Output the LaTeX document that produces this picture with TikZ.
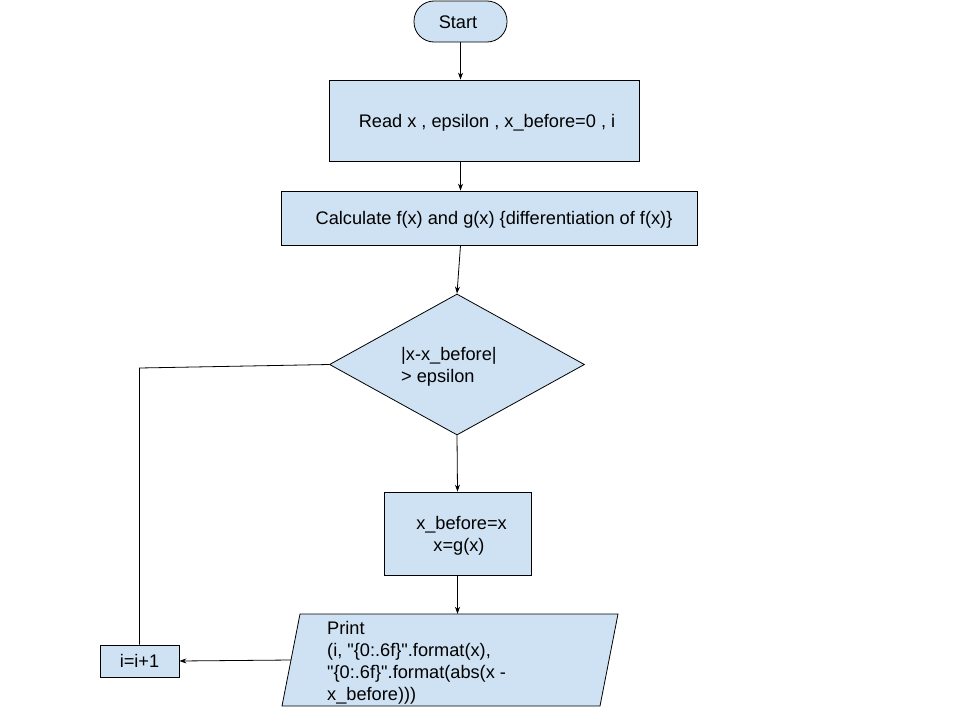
\documentclass[tikz,border=0pt]{standalone}
\usepackage{fontspec}
\setmainfont{Liberation Sans}[Ligatures=TeXOff]
\usetikzlibrary{shapes.geometric,arrows.meta}
\definecolor{boxfill}{HTML}{CFE2F3}
\begin{document}
\begin{tikzpicture}[x=1pt,y=-1pt,
  every node/.style={font=\fontsize{18.2}{22}\selectfont, inner sep=0pt},
  block/.style={draw=black, fill=boxfill, line width=0.8pt},
  flow/.style={draw=black, line width=0.8pt, -{Stealth[length=7pt,width=5pt]}},
  plain/.style={draw=black, line width=0.8pt}]
\useasboundingbox (0,0) rectangle (960,720);
\fill[white] (0,0) rectangle (960,720);

% boxes
\node[block, rounded corners=20pt, minimum width=93pt, minimum height=41pt] (start) at (460.5,21.5) {};
\node (stext) at (458,22.5) {Start};
\node[block, minimum width=310pt, minimum height=81pt] (read) at (484,120.5) {};
\node (rtext) at (487,122.5) {Read x , epsilon , x\_before=0 , i};
\node[block, minimum width=416pt, minimum height=54pt] (calc) at (489,218) {};
\node (ctext) at (494,220) {Calculate f(x) and g(x) \{differentiation of f(x)\}};
\node[block, diamond, minimum width=255pt, minimum height=141pt] (dia) at (457,364.5) {};
\node[anchor=west, align=left] (dtext) at (401,367) {|x-x\_before|\\> epsilon};
\node[block, minimum width=147pt, minimum height=83pt] (xb) at (457.5,533.5) {};
\node[align=center] (xtext) at (459,536) {\ x\_before=x\\x=g(x)};

% input/output parallelogram
\coordinate (ptl) at (300,614);
\coordinate (ptr) at (618,614);
\coordinate (pbr) at (600,706);
\coordinate (pbl) at (282,706);
\draw[block] (ptl) -- (ptr) -- (pbr) -- (pbl) -- cycle;
\node[minimum width=318pt, minimum height=92pt] (prt) at (450,660) {};
\node[anchor=west, align=left] (ptext) at (327,663) {Print\\(i, "\{0:.6f\}".format(x),\\"\{0:.6f\}".format(abs(x -\\x\_before)))};
\node[block, minimum width=79pt, minimum height=32pt] (inc) at (139.5,661) {i=i+1};

% connectors
\draw[flow] (start.south) -- (start.south |- read.north);
\draw[flow] (read.south -| start.south) -- (calc.north -| start.south);
\draw[flow] (calc.south -| start.south) -- (dia.north);
\draw[flow] (dia.south) -- (xb.north);
\draw[flow] (xb.south) -- (xb.south |- prt.north);
\draw[flow] (prt.west) -- (inc.east);
\coordinate (corner) at (139.5,368);
\draw[plain] (inc.north) -- (corner) -- (dia.west);
\end{tikzpicture}
\end{document}
